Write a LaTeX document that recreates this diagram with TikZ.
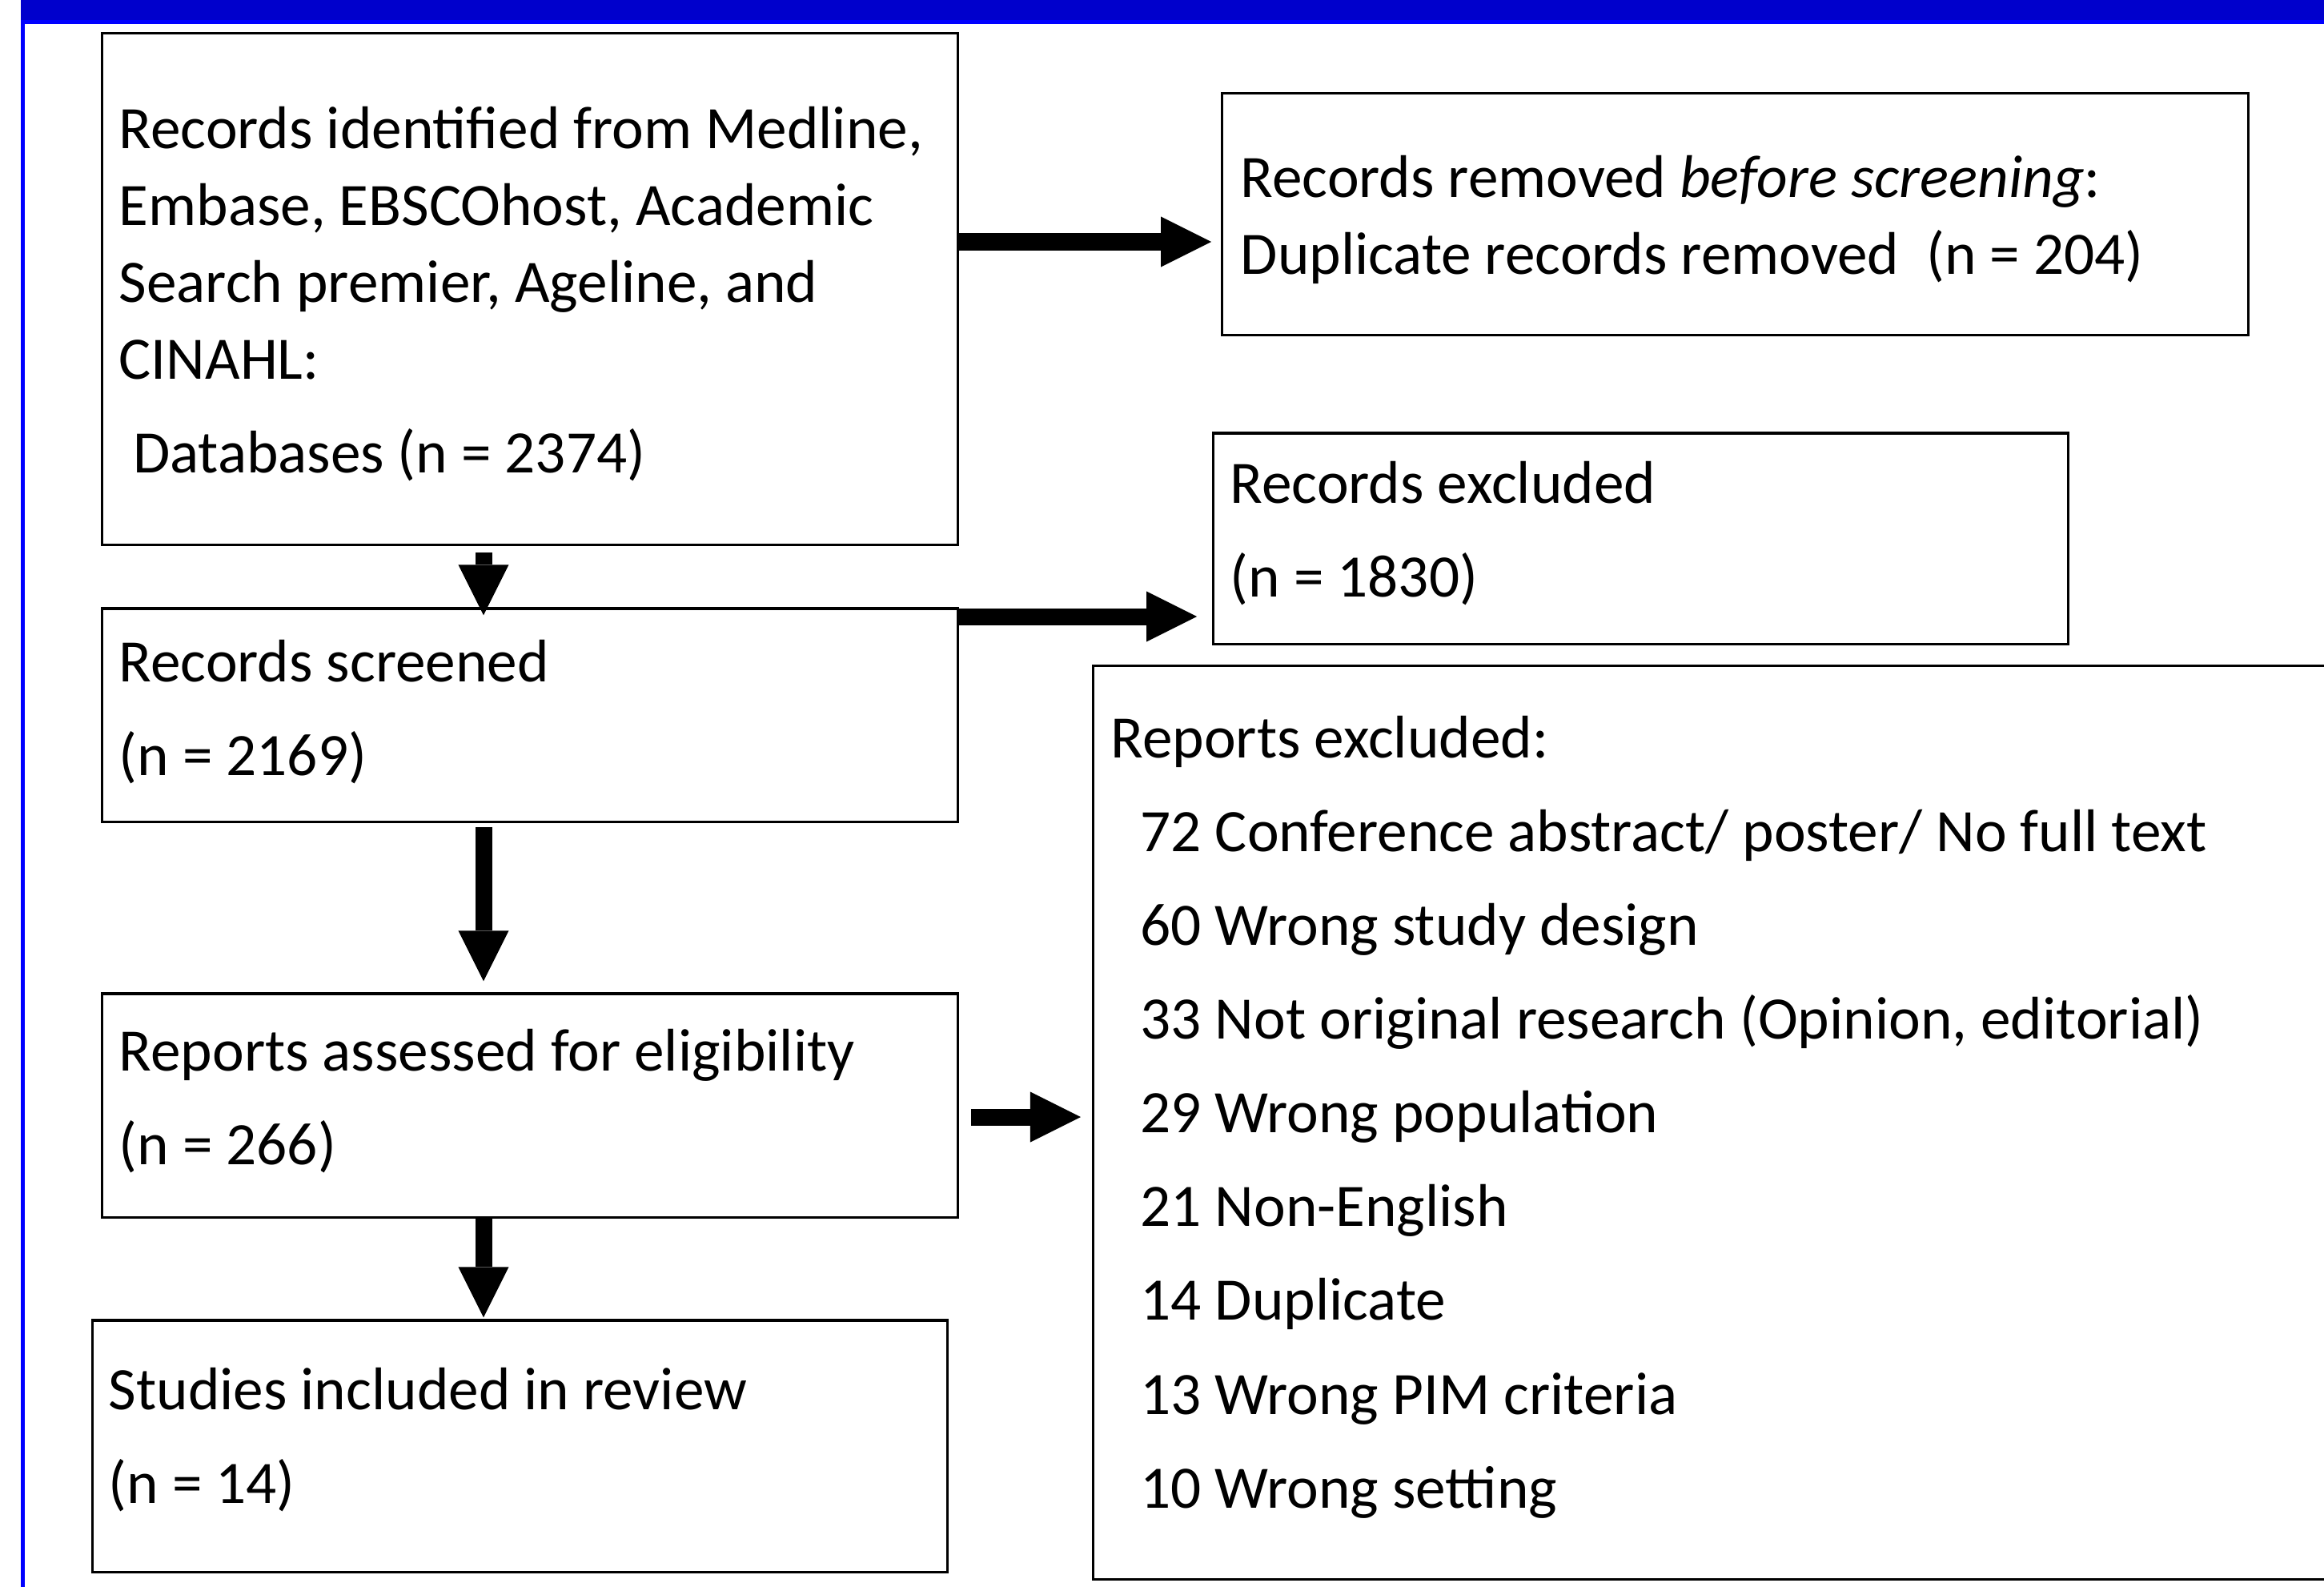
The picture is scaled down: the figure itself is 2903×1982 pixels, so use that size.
\documentclass[tikz,border=0pt]{standalone}
\usepackage{fontspec}
\setmainfont{Carlito}
\usepackage{xcolor}
\definecolor{bandBlue}{HTML}{0000CC}
\definecolor{edgeBlue}{HTML}{0000FF}
\usetikzlibrary{arrows.meta}
\tikzset{
    % Plain boxes of the flow chart
    flowbox/.style={
        rectangle,
        draw=black,
        line width=0.9pt,
        inner sep=0pt,
    },
    % Text in a box, placed by the baseline of its last line
    boxtext/.style={
        anchor=base west,
        inner sep=0pt,
        align=left,
        font=\fontsize{21.4pt}{33.3pt}\selectfont,
    },
    % Same, with single line spacing
    boxtext tight/.style={
        boxtext,
        font=\fontsize{21.4pt}{27.3pt}\selectfont,
    },
    % Thick black block arrow
    fatarrow/.style={
        -{Triangle[length=6.3mm, width=6.3mm, line width=0pt]},
        line width=2.1mm,
        draw=black,
    },
}

\begin{document}
\begin{tikzpicture}[x=0.01cm, y=-0.01cm]
    \useasboundingbox (0,0) rectangle (2903,1982);

    % blue frame
    \fill[bandBlue] (26,0) rectangle (2903,25);
    \draw[edgeBlue, line width=0.5mm] (28.5,1982) -- (28.5,28) -- (2903,28);

    % boxes
    \node (ident) [flowbox, minimum width=10.68cm, minimum height=6.38cm] at (662,361) {};
    \node (removed) [flowbox, minimum width=12.81cm, minimum height=3.01cm] at (2167.5,267.5) {};
    \node (recexcl) [flowbox, minimum width=10.67cm, minimum height=2.63cm] at (2049.5,672.5) {};
    \node (screened) [flowbox, minimum width=10.68cm, minimum height=2.66cm] at (662,893) {};
    \node (repexcl) [flowbox, minimum width=15.84cm, minimum height=11.40cm] at (2158,1402) {};
    \node (assessed) [flowbox, minimum width=10.68cm, minimum height=2.79cm] at (662,1380.5) {};
    \node (included) [flowbox, minimum width=10.67cm, minimum height=3.14cm] at (649.5,1806) {};

    % texts
    \node (identtxt) [boxtext tight] at ([shift={(22,550)}]ident.north west)
        {Records identified from Medline,\\ Embase, EBSCOhost, Academic\\ Search premier, Ageline, and\\ CINAHL:\\[6pt] \hspace*{0.23em}Databases (n = 2374)};
    \node (removedtxt) [boxtext tight] at ([shift={(24,227)}]removed.north west)
        {Records removed \textit{before screening}:\\ Duplicate records removed\ \ (n = 204)};
    \node (recexcltxt) [boxtext] at ([shift={(22,206)}]recexcl.north west)
        {Records excluded\\ (n = 1830)};
    \node (screenedtxt) [boxtext] at ([shift={(22,210)}]screened.north west)
        {Records screened\\ (n = 2169)};
    \node (repexcltxt) [boxtext] at ([shift={(23,1053)}]repexcl.north west)
        {Reports excluded:\\
         \hspace*{10.5pt}72 Conference abstract/ poster/ No full text\\
         \hspace*{10.5pt}60 Wrong study design\\
         \hspace*{10.5pt}33 Not original research (Opinion, editorial)\\
         \hspace*{10.5pt}29 Wrong population\\
         \hspace*{10.5pt}21 Non-English\\
         \hspace*{10.5pt}14 Duplicate\\
         \hspace*{10.5pt}13 Wrong PIM criteria\\
         \hspace*{10.5pt}10 Wrong setting};
    \node (assessedtxt) [boxtext] at ([shift={(22,215)}]assessed.north west)
        {Reports assessed for eligibility\\ (n = 266)};
    \node (includedtxt) [boxtext] at ([shift={(21,230)}]included.north west)
        {Studies included in review\\ (n = 14)};

    % arrows
    \coordinate (spine) at (604,0);
    \coordinate (rowA) at (0,302);
    \coordinate (rowB) at (0,770);
    \coordinate (rowC) at (0,1395);
    \draw [fatarrow, shorten >=1.2mm] (ident.east |- rowA) -- (removed.west |- rowA);
    \draw [fatarrow, shorten >=1.9mm] (screened.east |- rowB) -- (recexcl.west |- rowB);
    \draw [fatarrow, shorten <=1.5mm, shorten >=1.4mm] (assessed.east |- rowC) -- (repexcl.west |- rowC);
    \draw [fatarrow, shorten <=0.8mm, shorten >=-1mm] (spine |- ident.south) -- (spine |- screened.north);
    \draw [fatarrow, shorten <=0.5mm, shorten >=1.4mm] (spine |- screened.south) -- (spine |- assessed.north);
    \draw [fatarrow, shorten >=0.2mm] (spine |- assessed.south) -- (spine |- included.north);
\end{tikzpicture}
\end{document}
